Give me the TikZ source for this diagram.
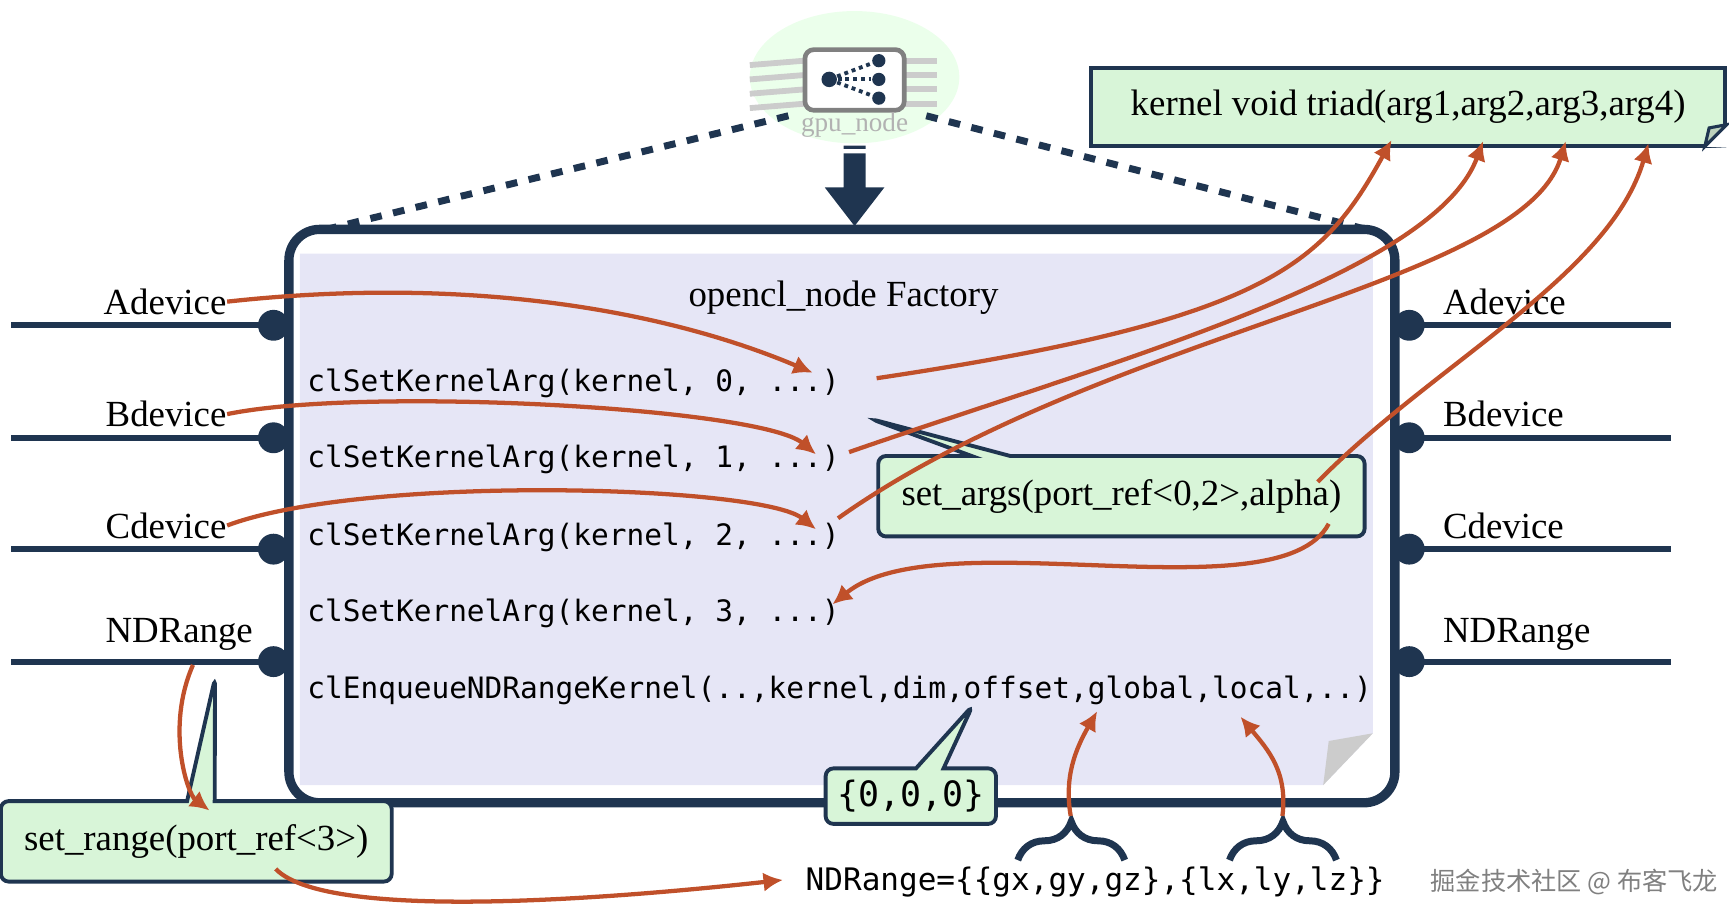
\documentclass[tikz,border=0pt]{standalone}
\usepackage{fontspec}
\setmainfont{Liberation Serif}
\setmonofont{DejaVu Sans Mono}
\newfontfamily\cjk{Noto Sans CJK SC}
\usetikzlibrary{arrows.meta,shapes.callouts,decorations.pathreplacing}
\definecolor{navy}{HTML}{1F3550}
\definecolor{rust}{HTML}{C0502A}
\definecolor{mint}{HTML}{D8F5D8}
\definecolor{lav}{HTML}{E6E6F6}
\tikzset{
  port/.style={navy,line width=1.6pt},
  lbl/.style={font=\fontsize{9.5}{11}\selectfont,inner sep=0pt},
  code/.style={font=\ttfamily\fontsize{7.6}{9}\selectfont,anchor=west,inner sep=0pt},
  link/.style={rust,line width=1.1pt,-{Latex[length=5pt,width=5pt]}},
  note/.style={draw=navy,fill=mint,line width=1pt,rounded corners=2pt,inner sep=3pt},
  curly/.style={navy,line width=1.8pt,decorate,decoration={brace,amplitude=0.35cm}}
}
\begin{document}
\begin{tikzpicture}[x=0.01cm,y=-0.01cm]
	\useasboundingbox (0,0) rectangle (1568,835);
	% factory box
	\fill[lav] (272,230) -- (1245,230) -- (1245,665) -- (1200,712) -- (272,712) -- cycle;
	\fill[gray!40] (1245,665) -- (1200,712) -- (1205,672) -- cycle;
	\draw[navy,line width=2.4pt,rounded corners=0.28cm] (262,208) rectangle (1265,728);
	\node[lbl] (title) at (765,270) {opencl\_node Factory};
	% ports
	\foreach \y/\t [count=\i] in {295/Adevice,397/Bdevice,498/Cdevice,600/NDRange} {
		\draw[port] (10,\y) -- (262,\y);
		\fill[navy] (248,\y) circle (14);
		\node[lbl,anchor=south east] (in\i) at (\ifnum\i=4 230\else 206\fi,\y-9) {\t};
		\draw[port] (1278,\y) -- (1515,\y);
		\fill[navy] (1278,\y) circle (14);
		\node[lbl,anchor=south west] (out\i) at (1308,\y-9) {\t};
	}
	% code lines
	\foreach \y/\n [count=\i] in {348/0,417/1,487/2,556/3} {
		\node[code] (arg\i) at (278,\y) {clSetKernelArg(kernel, \n, ...)};
	}
	\node[code] (enq) at (278,626) {clEnqueueNDRangeKernel(..,kernel,dim,offset,global,local,..)};
	% gpu_node
	\fill[green!8] (775,70) ellipse (95 and 60);
	\foreach \y in {55,68,81,94} {
		\draw[gray!40,line width=1.5pt] (680,\y+4) -- (730,\y);
		\draw[gray!40,line width=1.5pt] (820,\y) -- (850,\y);
	}
	\draw[gray,fill=white,line width=1.2pt,rounded corners=0.08cm] (730,45) rectangle (820,100);
	\node[circle,fill=navy,inner sep=0pt,minimum size=0.14cm] (src) at (752,72) {};
	\foreach \y [count=\i] in {55,72,89} {
		\node[circle,fill=navy,inner sep=0pt,minimum size=0.12cm] (dst\i) at (797,\y) {};
		\draw[navy,densely dotted,line width=1pt] (src) -- (dst\i);
	}
	\node[font=\fontsize{7}{8}\selectfont,text=gray!60] (gpu) at (775,113) {gpu\_node};
	\draw[navy,dashed,line width=1.8pt] (715,105) -- (300,207);
	\draw[navy,dashed,line width=1.8pt] (840,105) -- (1235,207);
	\fill[navy] (765,132) rectangle (785,135) (765,139) rectangle (785,170)
		(748,170) -- (802,170) -- (775,205) -- cycle;
	% notes
	\node[note,minimum width=5.75cm,minimum height=0.7cm,rounded corners=0pt,lbl] (kern) at (1277,97) {kernel void triad(arg1,arg2,arg3,arg4)};
	\fill[white] (1546,133) -- (1566,113) -- (1566,134) -- cycle;
	\draw[navy,fill=mint!70!gray,line width=0.8pt] (1546,133) -- (1566,113) -- (1550,116) -- cycle;
	\node[note,rectangle callout,callout absolute pointer={(790,380)},callout pointer width=0.35cm,lbl,inner sep=6pt] (sargs) at (1017,450) {set\_args(port\_ref<0,2>,alpha)};
	\node[note,rectangle callout,callout absolute pointer={(882,640)},font=\ttfamily\fontsize{9}{10}\selectfont] (zero) at (826,722) {\{0,0,0\}};
	\node[note,rectangle callout,callout absolute pointer={(195,615)},lbl,inner sep=6pt] (srange) at (178,763) {set\_range(port\_ref<3>)};
	\node[code,font=\ttfamily\fontsize{8}{9}\selectfont] (ndr) at (730,800) {NDRange=\{\{gx,gy,gz\},\{lx,ly,lz\}\}};
	\node[anchor=west,font=\cjk\fontsize{6.5}{8}\selectfont,text=gray] (mark) at (1285,800) {掘金技术社区 @ 布客飞龙};
	\draw[curly] (923,780) -- (1020,780);
	\draw[curly] (1115,780) -- (1212,780);
	\coordinate (gbr) at (971,740);
	\coordinate (lbr) at (1163,740);
	% links
	\draw[link] (in1.east) .. controls (420,250) and (600,280) .. (737,338);
	\draw[link] (in2.east) .. controls (330,350) and (690,370) .. (740,412);
	\draw[link] (in3.east) .. controls (330,430) and (690,440) .. (740,480);
	\draw[link] (795,343) .. controls (1150,290) and (1200,240) .. (1262,127);
	\draw[link] (770,410) .. controls (1000,330) and (1300,250) .. (1345,128);
	\draw[link] (760,470) .. controls (1000,300) and (1380,260) .. (1420,128);
	\draw[link] (1195,437) .. controls (1300,330) and (1460,250) .. (1495,130);
	\draw[link] (1205,475) .. controls (1160,560) and (850,470) .. (755,548);
	\draw[link] (175,603) .. controls (150,660) and (170,720) .. (190,735);
	\draw[link] (250,788) .. controls (300,840) and (600,810) .. (710,798);
	\draw[link] (gbr) .. controls (965,705) and (975,680) .. (995,645);
	\draw[link] (lbr) .. controls (1168,700) and (1150,680) .. (1125,650);
\end{tikzpicture}
\end{document}
